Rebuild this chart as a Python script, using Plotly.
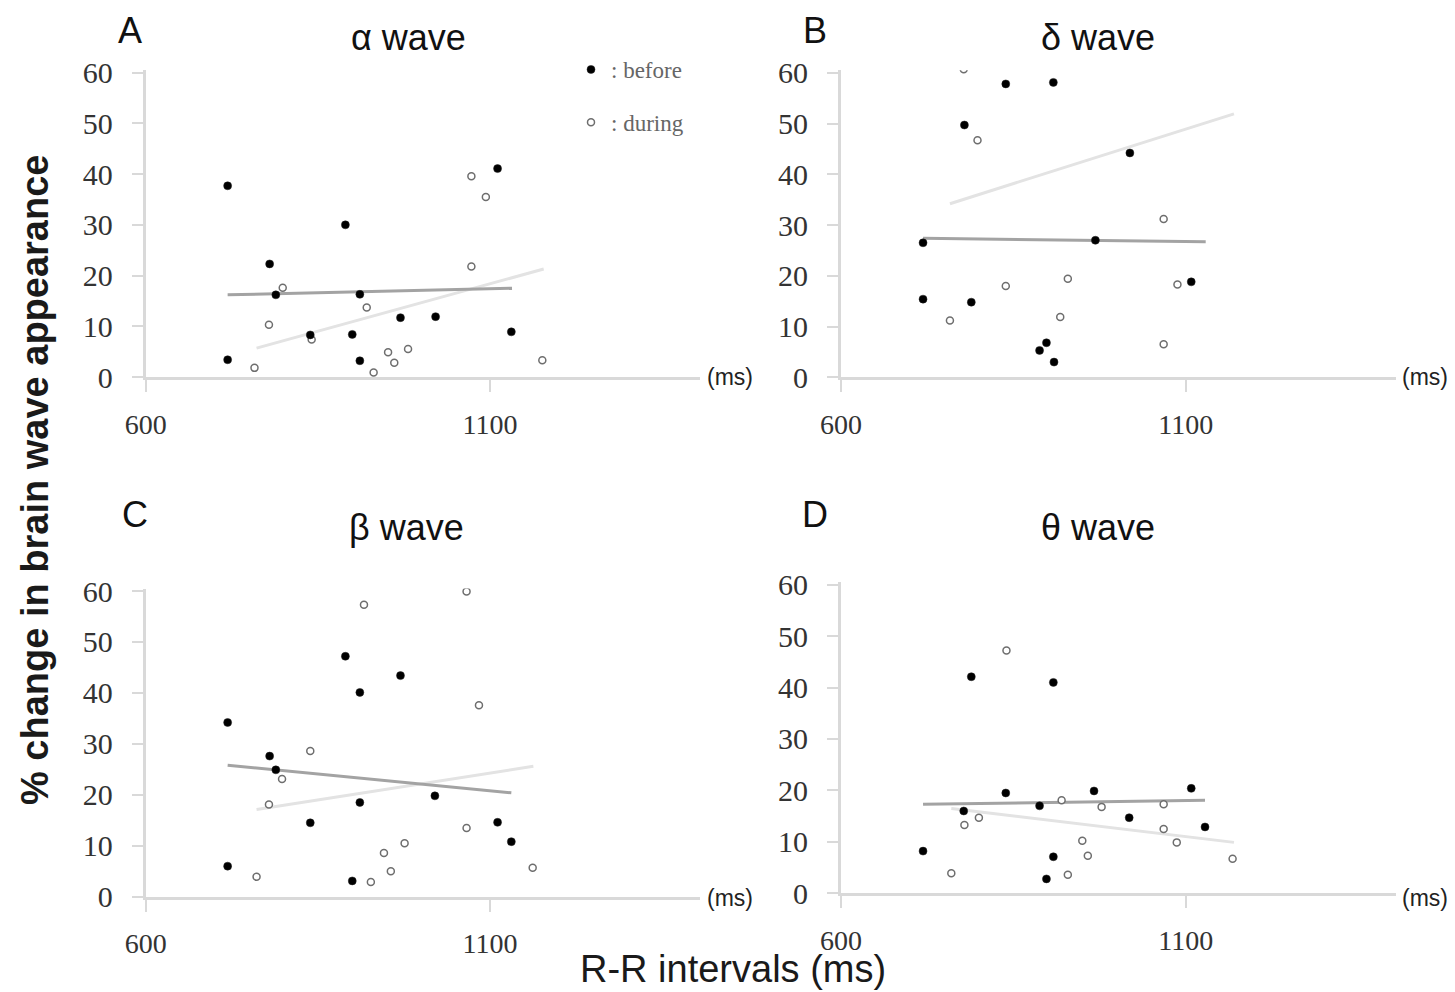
import plotly.graph_objects as go

# ---------------- data ----------------
# Panel A: alpha wave
a_before_x = [719, 719, 780, 789, 839, 890, 900, 911, 911, 970, 1021, 1111, 1131]
a_before_y = [37.7, 3.4, 22.3, 16.2, 8.3, 30.0, 8.4, 16.3, 3.2, 11.7, 11.9, 41.1, 8.9]
a_during_x = [758, 779, 799, 841, 921, 931, 952, 961, 981, 1073, 1094, 1073, 1176]
a_during_y = [1.8, 10.3, 17.6, 7.4, 13.7, 0.9, 4.9, 2.8, 5.5, 39.6, 35.5, 21.8, 3.3]
a_trend_before_x = [719, 1132]
a_trend_before_y = [16.2, 17.5]
a_trend_during_x = [761, 1178]
a_trend_during_y = [5.7, 21.3]

# Panel B: delta wave
b_before_x = [719, 719, 779, 789, 839, 908, 888, 898, 909, 969, 1019, 1108]
b_before_y = [26.5, 15.4, 49.7, 14.8, 57.8, 58.1, 5.3, 6.8, 3.0, 27.0, 44.2, 18.8]
b_during_x = [778, 798, 758, 839, 918, 929, 1068, 1068, 1088]
b_during_y = [60.7, 46.7, 11.2, 18.0, 11.9, 19.4, 31.2, 6.5, 18.3]
b_trend_before_x = [719, 1129]
b_trend_before_y = [27.4, 26.7]
b_trend_during_x = [758, 1170]
b_trend_during_y = [34.2, 51.9]

# Panel C: beta wave
c_before_x = [719, 780, 789, 890, 911, 970, 839, 911, 719, 900, 1020, 1111, 1131]
c_before_y = [34.2, 27.6, 24.9, 47.2, 40.1, 43.4, 14.5, 18.5, 6.0, 3.1, 19.8, 14.6, 10.8]
c_during_x = [917, 1066, 1084, 839, 798, 779, 761, 927, 956, 946, 976, 1066, 1162]
c_during_y = [57.3, 59.9, 37.6, 28.6, 23.1, 18.1, 3.9, 2.9, 5.0, 8.6, 10.5, 13.5, 5.7]
c_trend_before_x = [719, 1131]
c_trend_before_y = [25.8, 20.4]
c_trend_during_x = [761, 1163]
c_trend_during_y = [17.1, 25.6]

# Panel D: theta wave
d_before_x = [719, 778, 789, 839, 888, 908, 908, 898, 967, 1018, 1108, 1128]
d_before_y = [8.2, 16.0, 42.1, 19.5, 17.0, 41.0, 7.1, 2.8, 19.9, 14.7, 20.4, 12.9]
d_during_x = [840, 760, 779, 800, 920, 978, 950, 958, 929, 1068, 1068, 1087, 1168]
d_during_y = [47.2, 3.9, 13.3, 14.7, 18.1, 16.8, 10.2, 7.3, 3.6, 17.3, 12.5, 9.9, 6.7]
d_trend_before_x = [719, 1128]
d_trend_before_y = [17.3, 18.1]
d_trend_during_x = [760, 1170]
d_trend_during_y = [16.5, 9.9]

panel_letters = ["A", "B", "C", "D"]
panel_titles = ["α wave", "δ wave", "β wave", "θ wave"]
x_ticks = [600, 1100]
x_ticktext = ["600", "1100"]
y_ticks = [0, 10, 20, 30, 40, 50, 60]
legend_names = [": before", ": during"]

# ---------------- layout geometry ----------------
W, H = 1455, 992
panels = [
    dict(before=(a_before_x, a_before_y), during=(a_during_x, a_during_y),
         tb=(a_trend_before_x, a_trend_before_y), td=(a_trend_during_x, a_trend_during_y),
         xd=[145.7 / W, 700 / W], yd=[1 - 377 / H, 1 - 70.2 / H]),
    dict(before=(b_before_x, b_before_y), during=(b_during_x, b_during_y),
         tb=(b_trend_before_x, b_trend_before_y), td=(b_trend_during_x, b_trend_during_y),
         xd=[841 / W, 1396 / W], yd=[1 - 377.3 / H, 1 - 70.2 / H]),
    dict(before=(c_before_x, c_before_y), during=(c_during_x, c_during_y),
         tb=(c_trend_before_x, c_trend_before_y), td=(c_trend_during_x, c_trend_during_y),
         xd=[145.7 / W, 700 / W], yd=[1 - 896.7 / H, 1 - 588.5 / H]),
    dict(before=(d_before_x, d_before_y), during=(d_during_x, d_during_y),
         tb=(d_trend_before_x, d_trend_before_y), td=(d_trend_during_x, d_trend_during_y),
         xd=[841 / W, 1396 / W], yd=[1 - 893.3 / H, 1 - 582.1 / H]),
]

AXIS_GRAY = "#d9d9d9"
SERIF = "Liberation Serif, DejaVu Serif, serif"
SANS = "Liberation Sans, Arial, sans-serif"

fig = go.Figure()
layout = {}
annotations = []

for i, p in enumerate(panels):
    n = "" if i == 0 else str(i + 1)
    xa, ya = "x" + n, "y" + n
    # trend lines
    fig.add_trace(go.Scatter(x=p["td"][0], y=p["td"][1], mode="lines", xaxis=xa, yaxis=ya,
                             line=dict(color="#e3e3e3", width=3), showlegend=False, hoverinfo="skip"))
    fig.add_trace(go.Scatter(x=p["tb"][0], y=p["tb"][1], mode="lines", xaxis=xa, yaxis=ya,
                             line=dict(color="#a3a3a3", width=3), showlegend=False, hoverinfo="skip"))
    # points
    fig.add_trace(go.Scatter(x=p["during"][0], y=p["during"][1], mode="markers", xaxis=xa, yaxis=ya,
                             name=legend_names[1], legendgroup="d", legendrank=2, showlegend=(i == 0),
                             marker=dict(symbol="circle", size=7, color="white",
                                         line=dict(color="#6e6e6e", width=1.5))))
    fig.add_trace(go.Scatter(x=p["before"][0], y=p["before"][1], mode="markers", xaxis=xa, yaxis=ya,
                             name=legend_names[0], legendgroup="b", legendrank=1, showlegend=(i == 0),
                             marker=dict(symbol="circle", size=8, color="black",
                                         line=dict(color="#222", width=0.5))))

    layout["xaxis" + n] = dict(
        domain=p["xd"], anchor=ya, range=[600, 1405], tickvals=x_ticks, ticktext=x_ticktext,
        ticks="outside", ticklen=12, tickwidth=2, tickcolor=AXIS_GRAY, automargin=False,
        showline=True, linecolor=AXIS_GRAY, linewidth=3, showgrid=False, zeroline=False,
        ticklabelstandoff=8, tickfont=dict(family=SERIF, size=28, color="#333"),
    )
    layout["yaxis" + n] = dict(
        domain=p["yd"], anchor=xa, range=[0, 60.5], tickvals=y_ticks,
        ticks="outside", ticklen=11, tickwidth=2, tickcolor=AXIS_GRAY, automargin=False,
        showline=True, linecolor=AXIS_GRAY, linewidth=3, showgrid=False, zeroline=False,
        ticklabelstandoff=13, tickfont=dict(family=SERIF, size=30, color="#333"),
    )

# panel letters, titles, "(ms)" labels in pixel positions
letter_pos = [(130, 30), (815, 30), (135, 514), (815, 514)]
title_pos = [(408, 37), (1098, 37), (406, 527), (1098, 527)]
ms_pos = [(730, 377), (1425, 377), (730, 898), (1425, 898)]
for i in range(4):
    lx, ly = letter_pos[i]
    annotations.append(dict(text=panel_letters[i], x=lx / W, y=1 - ly / H, xref="paper", yref="paper",
                            showarrow=False, xanchor="center", yanchor="middle",
                            font=dict(family=SANS, size=36, color="#111")))
    tx, ty = title_pos[i]
    annotations.append(dict(text=panel_titles[i], x=tx / W, y=1 - ty / H, xref="paper", yref="paper",
                            showarrow=False, xanchor="center", yanchor="middle",
                            font=dict(family=SANS, size=36, color="#111")))
    mx, my = ms_pos[i]
    annotations.append(dict(text="(ms)", x=mx / W, y=1 - my / H, xref="paper", yref="paper",
                            showarrow=False, xanchor="center", yanchor="middle",
                            font=dict(family=SANS, size=23, color="#222")))

# shared axis titles
annotations.append(dict(text="% change in brain wave appearance", x=35 / W, y=1 - 480 / H,
                        xref="paper", yref="paper", showarrow=False, textangle=-90,
                        xanchor="center", yanchor="middle",
                        font=dict(family=SANS, size=38, color="#1a1a1a", weight="bold")))
annotations.append(dict(text="R-R intervals (ms)", x=733 / W, y=1 - 969 / H,
                        xref="paper", yref="paper", showarrow=False,
                        xanchor="center", yanchor="middle",
                        font=dict(family=SANS, size=38, color="#1a1a1a")))

fig.update_layout(
    width=W, height=H, margin=dict(l=0, r=0, t=0, b=0, autoexpand=False),
    paper_bgcolor="white", plot_bgcolor="white",
    annotations=annotations,
    legend=dict(x=571 / W, y=1 - 48 / H, xanchor="left", yanchor="top",
                traceorder="grouped", tracegroupgap=20, bgcolor="rgba(0,0,0,0)",
                font=dict(family=SERIF, size=23, color="#666")),
    **layout,
)

fig.write_html("out.html")
